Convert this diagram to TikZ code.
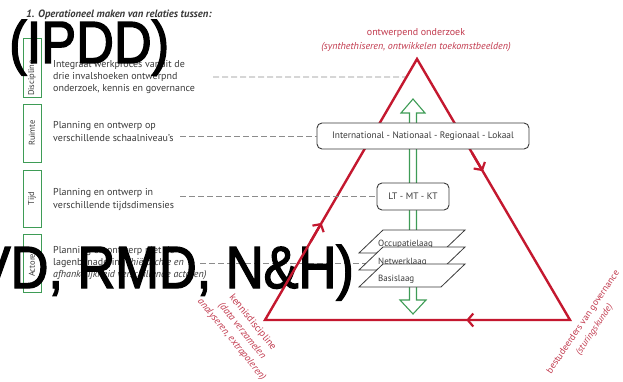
\documentclass[tikz,border=0pt]{standalone}
\usepackage{fontspec}
\setmainfont{PT Sans}
\newfontfamily\arialf[FakeBold=2.5]{Liberation Sans}
\usetikzlibrary{arrows.meta,calc}
\definecolor{tri}{HTML}{C4182F}
\definecolor{lab}{HTML}{C23A4E}
\definecolor{grn}{HTML}{3E9C56}
\definecolor{txt}{HTML}{3A3A3A}
\definecolor{dsh}{HTML}{8C8C8C}
\tikzset{
  bodytext/.style={anchor=west, inner sep=0, align=left, text=txt, font=\fontsize{10}{12.3}\selectfont},
  gbox/.style={draw=grn, line width=0.9pt, rotate=90, inner sep=0, text=txt, font=\fontsize{8.5}{9}\selectfont},
  rbox/.style={draw=txt, fill=white, rounded corners=5pt, line width=0.9pt, inner sep=0, text=txt, font=\fontsize{9.4}{11}\selectfont},
  dashline/.style={draw=dsh, line width=0.8pt, dash pattern=on 6pt off 3pt},
  redlab/.style={text=lab, align=center, inner sep=0, font=\fontsize{10}{13.5}\selectfont},
  big/.style={anchor=base west, inner sep=0, text=black, font=\arialf\fontsize{59.5}{60}\selectfont},
  tripath/.style={draw=tri, line width=2.4pt, line join=miter},
  triarrow/.style={draw=tri, line width=2.4pt, -{Straight Barb[length=5.5pt,width=13pt,line width=2.2pt]}},
  layer/.style={draw=txt, fill=white, line width=0.8pt},
  layertext/.style={anchor=west, inner sep=0, text=txt, font=\fontsize{9}{10}\selectfont},
}
\begin{document}
\begin{tikzpicture}[x=1pt,y=-1pt]
\clip (0,0) rectangle (623,382);
\fill[white] (0,0) rectangle (623,382);

% title
\node[anchor=west, inner sep=0, text=txt, font=\fontsize{10.6}{12}\selectfont\bfseries\itshape] (title) at (26,15) {1. Operationeel maken van relaties tussen:};

% green boxes
\node[gbox, text width=57pt, inner xsep=1pt, align=left, minimum height=18pt] (b1) at (32,67.5) {Discipline};
\node[gbox, minimum width=58pt, minimum height=18pt] (b2) at (32,133) {Ruimte};
\node[gbox, minimum width=57pt, minimum height=18pt] (b3) at (32,198.5) {Tijd};
\node[gbox, minimum width=58pt, minimum height=18pt] (b4) at (32,263) {Actoren};

% body texts
\node[bodytext] (t1) at (53,77) {Integraal werkproces vanuit de\\drie invalshoeken ontwerpnd\\onderzoek, kennis en governance};
\node[bodytext] (t2) at (53,131.5) {Planning en ontwerp op\\verschillende schaalniveau's};
\node[bodytext] (t3) at (53,199.5) {Planning en ontwerp in\\verschillende tijdsdimensies};
\node[bodytext] (t4) at (53,263) {Planning en ontwerp met de\\lagenbenadering \textit{(hiërarchie en}\\\textit{afhankelijkheid verschillende actoren)}};

% triangle corners
\coordinate (A) at (417,59);
\coordinate (R) at (570,320);
\coordinate (L) at (265,320);

% dashed connector ends
\coordinate (d1) at (213,77);
\coordinate (d2) at (180,136);
\coordinate (d3) at (180,196.5);
\coordinate (d4) at (200,263);
\coordinate (d4e) at (368,263);

\path (L) -- (A) coordinate[pos=0.931] (e1);
\draw[dashline] (d1) -- (e1);
\draw[dashline] (d4) -- (d4e);

% big overlay text
\node[big] (ipdd) at (9,63) {\scalebox{0.88}[1]{(IPDD)}};
\node[big] (vd) at (-24.5,288) {\scalebox{0.88}[1]{VD, RMD, N\&H)}};

% triangle
\draw[tripath] (L) -- (A) -- (R) -- cycle;
\path (L) -- (A) coordinate[pos=0.30] (a1s) coordinate[pos=0.372] (a1e);
\path (A) -- (R) coordinate[pos=0.36] (a2s) coordinate[pos=0.43] (a2e);
\path (R) -- (L) coordinate[pos=0.27] (a3s) coordinate[pos=0.34] (a3e);
\draw[triarrow] (a1s) -- (a1e);
\draw[triarrow] (a2s) -- (a2e);
\draw[triarrow] (a3s) -- (a3e);

% green double arrow
\draw[grn, line width=1.1pt, fill=white]
  (413,99) -- (425,113) -- (416.5,113) -- (416.5,300) -- (426,300) -- (413,314)
  -- (400,300) -- (409.5,300) -- (409.5,113) -- (401,113) -- cycle;

% scale boxes
\node[rbox, minimum width=212pt, minimum height=26pt] (int) at (423,136) {International - Nationaal - Regionaal - Lokaal};
\node[rbox, minimum width=72pt, minimum height=27pt] (lt) at (413,196.5) {LT - MT - KT};
\draw[dashline] (d2) -- (int.west);
\draw[dashline] (d3) -- (lt.west);

% layers
\draw[layer] (359,253) -- (441,253) -- (465,230) -- (383,230) -- cycle;
\node[layertext] (occ) at (378,244) {Occupatielaag};
\draw[layer] (359,270) -- (441,270) -- (465,247) -- (383,247) -- cycle;
\node[layertext] (net) at (378,262) {Netwerklaag};
\draw[layer] (359,287) -- (441,287) -- (465,264) -- (383,264) -- cycle;
\node[layertext] (bas) at (378,279) {Basislaag};

% red labels
\node[redlab] (top) at (416,40) {ontwerpend onderzoek\\\textit{(synthethiseren, ontwikkelen toekomstbeelden)}};
\node[redlab, rotate=-51] (kd) at (242,331) {kennisdiscipline\\\textit{(data verzamelen}\\\textit{analyseren, extrapoleren)}};
\node[redlab, rotate=56, font=\fontsize{9.4}{13.5}\selectfont] (bg) at (589,326) {bestudeerders van governance\\\textit{(sturingskunde)}};
\end{tikzpicture}
\end{document}
